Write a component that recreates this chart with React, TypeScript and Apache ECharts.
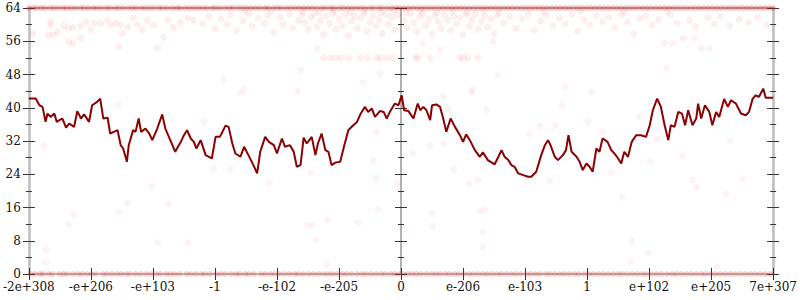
import React, { useEffect, useRef } from "react";
import * as echarts from "echarts";

const xTickLabels = ["-2e+308", "-e+206", "-e+103", "-1", "-e-102", "-e-205", "0", "e-206", "e-103", "1", "e+102", "e+205", "7e+307"];

const lineX = [
  -6.0, -5.89, -5.83, -5.78, -5.73, -5.7, -5.65, -5.59, -5.55, -5.51, -5.46, -5.4, -5.35, -5.27, -5.22, -5.16, -5.11, -5.03, -4.98, -4.9,
  -4.85, -4.8, -4.73, -4.69, -4.63, -4.57, -4.52, -4.48, -4.42, -4.39, -4.32, -4.28, -4.23, -4.19, -4.12, -4.06, -4.01, -3.93, -3.85, -3.8,
  -3.72, -3.64, -3.55, -3.5, -3.45, -3.39, -3.34, -3.3, -3.23, -3.15, -3.05, -2.99, -2.92, -2.83, -2.78, -2.72, -2.67, -2.59, -2.53, -2.46,
  -2.38, -2.32, -2.27, -2.19, -2.13, -2.05, -2.0, -1.92, -1.87, -1.79, -1.73, -1.68, -1.62, -1.57, -1.52, -1.44, -1.38, -1.34, -1.28, -1.22,
  -1.17, -1.12, -1.06, -0.98, -0.92, -0.85, -0.77, -0.71, -0.65, -0.58, -0.53, -0.47, -0.42, -0.34, -0.28, -0.23, -0.18, -0.1, -0.04, 0.01,
  0.05, 0.12, 0.2, 0.27, 0.31, 0.36, 0.41, 0.47, 0.5, 0.57, 0.63, 0.68, 0.73, 0.8, 0.87, 0.95, 1.0, 1.05, 1.11, 1.19,
  1.27, 1.32, 1.4, 1.51, 1.57, 1.62, 1.67, 1.73, 1.78, 1.83, 1.89, 1.97, 2.05, 2.1, 2.18, 2.26, 2.32, 2.37, 2.41, 2.48,
  2.53, 2.61, 2.66, 2.7, 2.75, 2.83, 2.88, 2.93, 2.99, 3.04, 3.09, 3.15, 3.2, 3.25, 3.33, 3.39, 3.44, 3.5, 3.55, 3.6,
  3.66, 3.72, 3.79, 3.87, 3.95, 4.01, 4.06, 4.13, 4.19, 4.25, 4.31, 4.35, 4.41, 4.47, 4.53, 4.58, 4.63, 4.7, 4.76, 4.79,
  4.84, 4.9, 4.97, 5.02, 5.08, 5.13, 5.21, 5.27, 5.32, 5.4, 5.48, 5.56, 5.61, 5.67, 5.72, 5.77, 5.84, 5.88, 6.0
];
const lineY = [
  42.2, 42.2, 40.6, 40.2, 36.6, 38.6, 37.8, 38.6, 36.6, 37.0, 37.4, 35.2, 36.2, 35.4, 39.2, 37.4, 38.4, 36.6, 40.6, 41.4,
  42.2, 37.4, 37.6, 33.8, 34.2, 34.6, 31.0, 30.2, 27.0, 31.0, 34.6, 34.2, 37.4, 34.2, 35.0, 33.8, 32.2, 35.0, 38.4, 35.0,
  32.2, 29.4, 31.8, 33.4, 34.6, 32.6, 31.8, 30.2, 32.2, 28.6, 27.8, 33.0, 33.0, 35.7, 35.4, 31.4, 29.0, 28.2, 30.6, 28.6,
  26.2, 24.2, 29.4, 33.0, 31.8, 31.0, 29.0, 32.6, 30.6, 31.0, 29.4, 25.8, 26.2, 32.8, 31.4, 33.0, 28.6, 31.4, 33.8, 29.8,
  29.4, 26.2, 26.8, 27.0, 30.6, 34.6, 35.8, 36.6, 38.6, 40.2, 39.0, 39.8, 37.8, 39.2, 39.0, 37.4, 39.0, 41.0, 40.6, 43.0,
  39.4, 39.2, 37.4, 41.0, 39.4, 40.2, 39.4, 37.0, 40.6, 40.8, 40.2, 37.4, 34.2, 37.4, 35.4, 33.4, 31.8, 33.6, 32.2, 29.8,
  28.2, 29.3, 27.4, 26.4, 28.2, 29.8, 28.2, 27.4, 26.2, 25.8, 24.2, 23.8, 23.4, 23.4, 24.6, 28.6, 31.0, 32.2, 31.0, 28.2,
  27.4, 28.6, 29.8, 33.4, 29.4, 28.2, 27.0, 25.0, 26.6, 25.8, 24.6, 30.2, 29.4, 32.6, 31.8, 29.8, 29.0, 27.8, 26.6, 29.4,
  28.2, 31.8, 33.4, 33.4, 33.0, 35.8, 39.4, 42.2, 40.2, 35.8, 32.2, 35.8, 35.4, 39.0, 38.6, 35.8, 39.4, 35.8, 37.4, 41.0,
  37.4, 40.6, 39.0, 35.8, 39.0, 37.8, 42.1, 40.2, 41.8, 41.0, 38.6, 38.2, 39.0, 42.2, 43.0, 42.6, 44.6, 42.4, 42.4
];

const row64X = [
  -6.0, -5.93, -5.87, -5.8, -5.74, -5.66, -5.6, -5.53, -5.45, -5.39, -5.32, -5.25, -5.17, -5.11, -5.04, -4.96, -4.9, -4.83, -4.75, -4.69,
  -4.61, -4.55, -4.48, -4.4, -4.33, -4.27, -4.19, -4.12, -4.05, -3.98, -3.9, -3.84, -3.77, -3.69, -3.62, -3.56, -3.48, -3.41, -3.34, -3.27,
  -3.2, -3.13, -3.05, -2.99, -2.92, -2.84, -2.77, -2.71, -2.63, -2.56, -2.49, -2.42, -2.35, -2.28, -2.2, -2.14, -2.06, -1.99, -1.93, -1.85,
  -1.78, -1.71, -1.64, -1.57, -1.5, -1.43, -1.36, -1.28, -1.22, -1.14, -1.08, -1.0, -0.93, -0.86, -0.79, -0.72, -0.65, -0.58, -0.5, -0.44,
  -0.36, -0.3, -0.22, -0.15, -0.08, -0.02, 0.05, 0.12, 0.19, 0.26, 0.33, 0.4, 0.47, 0.54, 0.61, 0.68, 0.75, 0.82, 0.89, 0.96,
  1.03, 1.1, 1.17, 1.24, 1.31, 1.38, 1.45, 1.52, 1.59, 1.66, 1.73, 1.8, 1.87, 1.94, 2.01, 2.08, 2.15, 2.22, 2.29, 2.36,
  2.43, 2.5, 2.57, 2.64, 2.71, 2.78, 2.85, 2.92, 2.99, 3.06, 3.13, 3.2, 3.27, 3.34, 3.41, 3.48, 3.55, 3.62, 3.69, 3.76,
  3.83, 3.9, 3.97, 4.04, 4.11, 4.18, 4.25, 4.32, 4.39, 4.46, 4.53, 4.6, 4.67, 4.74, 4.81, 4.88, 4.95, 5.02, 5.09, 5.16,
  5.23, 5.3, 5.37, 5.44, 5.51, 5.58, 5.65, 5.72, 5.79, 5.86, 5.93, 6.0
];
const row0X = [
  -5.97, -5.9, -5.82, -5.77, -5.68, -5.62, -5.51, -5.44, -5.38, -5.29, -5.21, -5.14, -5.06, -4.99, -4.92, -4.81, -4.74, -4.66, -4.58, -4.51,
  -4.43, -4.37, -4.28, -4.2, -4.11, -4.03, -3.95, -3.88, -3.79, -3.72, -3.65, -3.57, -3.46, -3.39, -3.31, -3.22, -3.16, -3.08, -2.98, -2.91,
  -2.83, -2.74, -2.66, -2.6, -2.51, -2.45, -2.37, -2.26, -2.19, -2.11, -2.04, -1.96, -1.88, -1.8, -1.72, -1.66, -1.58, -1.49, -1.41, -1.33,
  -1.25, -1.18, -1.11, -1.03, -0.95, -0.88, -0.8, -0.71, -0.63, -0.56, -0.48, -0.4, -0.32, -0.25, -0.17, -0.1, -0.03, 0.04, 0.11, 0.18,
  0.25, 0.32, 0.41, 0.49, 0.56, 0.63, 0.71, 0.78, 0.86, 0.93, 1.01, 1.09, 1.16, 1.24, 1.32, 1.39, 1.47, 1.55, 1.62, 1.7,
  1.78, 1.85, 1.93, 2.02, 2.09, 2.17, 2.24, 2.33, 2.4, 2.48, 2.56, 2.63, 2.71, 2.79, 2.86, 2.95, 3.03, 3.1, 3.18, 3.26,
  3.34, 3.42, 3.5, 3.57, 3.65, 3.73, 3.81, 3.89, 3.96, 4.04, 4.12, 4.2, 4.29, 4.37, 4.44, 4.52, 4.6, 4.68, 4.76, 4.84,
  4.91, 4.99, 5.07, 5.15, 5.23, 5.31, 5.39, 5.47, 5.55, 5.63, 5.71, 5.79, 5.87, 5.95
];

const bandPoints: [number, number][] = [
  [-5.94, 57.9], [-5.68, 57.5], [-5.65, 60.7], [-5.65, 59.9], [-5.6, 57.5], [-5.54, 58.3], [-5.44, 59.7], [-5.36, 59.2], [-5.36, 55.8], [-5.29, 59.3],
  [-5.29, 55.5], [-5.16, 59.7], [-5.16, 56.7], [-5.08, 60.7], [-5.0, 58.7], [-4.95, 60.4], [-4.84, 60.4], [-4.73, 61.1], [-4.68, 59.9], [-4.6, 60.4],
  [-4.55, 54.7], [-4.52, 59.9], [-4.49, 57.9], [-4.41, 59.4], [-4.31, 61.6], [-4.25, 59.9], [-4.17, 58.7], [-4.09, 61.1], [-3.99, 59.9], [-3.92, 54.4],
  [-3.83, 57.0], [-3.76, 61.1], [-3.67, 59.4], [-3.55, 60.6], [-3.44, 61.6], [-3.35, 61.1], [-3.2, 60.2], [-3.1, 62.0], [-3.0, 59.0], [-2.9, 61.3],
  [-2.8, 60.0], [-2.75, 62.4], [-2.65, 58.5], [-2.55, 61.0], [-2.45, 62.6], [-2.4, 59.6], [-2.3, 61.5], [-2.2, 60.3], [-2.15, 62.2], [-2.05, 58.2],
  [-1.95, 61.8], [-1.9, 60.0], [-1.8, 62.5], [-1.75, 59.2], [-1.65, 61.0], [-1.6, 62.3], [-1.55, 60.5], [-1.5, 58.8], [-1.45, 61.7], [-1.4, 62.6],
  [-1.35, 59.5], [-1.3, 61.0], [-1.25, 57.6], [-1.2, 62.0], [-1.15, 60.3], [-1.1, 62.7], [-1.05, 58.9], [-1.0, 61.4], [-0.95, 59.8], [-0.9, 62.4],
  [-0.85, 57.4], [-0.8, 60.8], [-0.75, 62.1], [-0.7, 59.1], [-0.65, 61.6], [-0.6, 62.8], [-0.55, 58.4], [-0.5, 60.6], [-0.45, 62.2], [-0.4, 59.6],
  [-0.35, 61.2], [-0.3, 57.9], [-0.25, 62.5], [-0.2, 60.1], [-0.15, 61.8], [-0.1, 58.7], [-0.05, 62.4], [0.05, 61.0], [0.1, 59.3], [0.15, 62.6],
  [0.2, 60.4], [0.25, 58.2], [0.3, 61.9], [0.35, 62.7], [0.4, 59.8], [0.45, 61.3], [0.5, 57.8], [0.55, 62.2], [0.6, 60.7], [0.65, 59.0],
  [0.7, 62.5], [0.75, 61.1], [0.8, 58.6], [0.85, 62.0], [0.9, 60.2], [0.95, 61.7], [1.0, 57.5], [1.05, 62.4], [1.1, 59.7], [1.15, 61.2],
  [1.2, 62.7], [1.25, 58.9], [1.3, 60.8], [1.35, 62.1], [1.4, 59.4], [1.45, 61.5], [1.5, 57.9], [1.55, 62.3], [1.65, 60.4], [1.75, 62.0],
  [1.85, 59.1], [1.95, 61.4], [2.05, 62.6], [2.15, 58.6], [2.25, 60.9], [2.35, 62.3], [2.45, 59.8], [2.55, 61.6], [2.65, 60.2], [2.75, 62.5],
  [2.85, 58.4], [2.95, 61.1], [3.05, 59.9], [3.15, 62.2], [3.25, 60.6], [3.35, 61.8], [3.45, 59.3], [3.55, 62.4], [3.65, 60.7], [3.75, 57.7],
  [3.85, 61.5], [3.95, 62.1], [4.05, 59.9], [4.15, 61.2], [4.25, 55.5], [4.35, 62.3], [4.45, 60.4], [4.55, 56.7], [4.65, 61.0], [4.75, 59.6],
  [4.85, 54.3], [4.95, 61.7], [5.05, 60.2], [5.15, 62.0], [5.3, 59.7], [5.45, 61.3], [5.6, 60.5], [5.75, 61.8], [5.9, 59.9],
  [-1.58, 63.1], [-1.32, 62.9], [-1.08, 63.2], [-0.82, 63.0], [-0.58, 63.3], [-0.33, 62.9], [-0.12, 63.2], [0.08, 63.0], [0.32, 63.3], [0.58, 62.9],
  [0.83, 63.2], [1.07, 63.0], [1.33, 63.3], [1.58, 62.9], [-2.52, 63.1], [-2.1, 63.2], [2.3, 63.1], [2.9, 63.2], [3.6, 63.0], [4.3, 63.1]
];

const row52X = [-1.25, -1.14, -1.06, -0.97, -0.84, -0.66, -0.55, -0.39, -0.34, -0.23, -0.13, 0.23, 0.27, 0.47, 0.95, 1.0, 1.08, 1.24];

const sparsePoints: [number, number][] = [
  [-1.62, 49.1], [-1.35, 54.1], [-0.34, 48.1], [-0.61, 46.0], [1.16, 44.3], [1.56, 47.9], [0.34, 55.5], [0.63, 53.9], [1.48, 55.9], [4.38, 55.5],
  [4.97, 54.3], [4.28, 49.5], [4.73, 56.7], [-5.73, 5.8], [-5.73, 2.9], [-5.36, 12.0], [-5.28, 14.4], [-4.55, 14.9], [-4.41, 17.0], [-3.75, 16.8],
  [-3.92, 7.5], [-3.44, 7.5], [-1.51, 11.8], [-1.43, 11.8], [-1.37, 8.2], [-1.19, 13.0], [-0.69, 12.3], [-0.37, 15.6], [0.5, 14.7], [0.51, 11.5],
  [1.27, 15.2], [1.35, 15.6], [1.32, 10.1], [1.32, 6.5], [-1.19, 2.2], [0.05, 10.6], [3.72, 8.0], [3.99, 5.0], [3.7, 2.9], [5.1, 1.7],
  [-4.55, 40.7], [-5.76, 30.8], [-4.02, 21.2], [-2.86, 46.7], [-2.54, 44.5], [-2.59, 43.5], [-1.67, 44.0], [-3.18, 36.6], [-3.02, 25.3], [-2.75, 25.3],
  [-2.12, 21.9], [-1.45, 24.3], [-0.39, 34.2], [-0.45, 27.2], [-0.4, 23.1], [-0.05, 21.9], [0.68, 42.8], [1.13, 43.8], [1.38, 39.5], [2.65, 45.0],
  [3.07, 43.8], [2.59, 40.4], [0.77, 39.7], [2.24, 35.6], [2.49, 35.8], [3.02, 36.6], [2.07, 33.7], [0.19, 29.1], [0.47, 30.8], [0.68, 31.5],
  [0.85, 25.0], [1.09, 21.7], [1.24, 22.6], [2.4, 22.4], [3.84, 37.8], [3.25, 34.2], [4.12, 32.5], [5.31, 32.0], [4.01, 27.2], [4.54, 28.4],
  [3.39, 24.5], [4.7, 22.6], [4.76, 20.9], [5.5, 22.9], [3.57, 18.5], [5.24, 19.2]
];

const FONT = "DejaVu Serif";
const TICK = "#333";
const AXIS = "#bdbdbd";

function yAx(position: string, onZero: boolean, opts: any) {
  return {
    type: "value",
    min: 0,
    max: 64,
    interval: 8,
    position,
    splitLine: { show: false },
    axisLine: { show: opts.line !== false, onZero, lineStyle: { color: opts.color || AXIS, width: opts.width || 2.5 } },
    axisTick: { show: true, inside: !!opts.inside, length: 6, lineStyle: { color: TICK, width: 1 } },
    minorTick: { show: true, splitNumber: 2, length: 3, lineStyle: { color: TICK, width: 1 } },
    axisLabel: opts.labels
      ? { show: true, fontFamily: FONT, fontSize: 12, color: "#111", margin: 8 }
      : { show: false },
  };
}

export default function App() {
  const ref = useRef<HTMLDivElement>(null);
  useEffect(() => {
    if (!ref.current) return;
    const chart = echarts.init(ref.current, null, { renderer: "svg" });
    const pointStyle = { color: "rgba(245,30,30,0.09)" };
    const topRowStyle = { color: "rgba(228,30,30,0.32)" };
    const bottomRowStyle = { color: "rgba(228,30,30,0.26)" };
    chart.setOption({
      animation: false,
      grid: { left: 28, right: 26, top: 8, bottom: 26, containLabel: false },
      xAxis: [
        {
          type: "value", min: -6, max: 6, interval: 1, position: "bottom",
          splitLine: { show: false },
          axisLine: { show: true, onZero: false, lineStyle: { color: AXIS, width: 2 } },
          axisTick: { show: true, length: 6, lineStyle: { color: TICK, width: 1 } },
          axisLabel: {
            show: true, fontFamily: FONT, fontSize: 12, color: "#111", margin: 7,
            showMinLabel: true, showMaxLabel: true, hideOverlap: false,
            formatter: (v: number) => xTickLabels[Math.round(v) + 6],
          },
        },
        {
          type: "value", min: -6, max: 6, interval: 1, position: "bottom",
          splitLine: { show: false },
          axisLine: { show: false, onZero: false },
          axisTick: { show: true, inside: true, length: 6, lineStyle: { color: TICK, width: 1 } },
          axisLabel: { show: false },
        },
        {
          type: "value", min: -6, max: 6, interval: 1, position: "top",
          splitLine: { show: false },
          axisLine: { show: true, onZero: false, lineStyle: { color: "#aaa", width: 2 } },
          axisTick: { show: false },
          axisLabel: { show: false },
        },
      ],
      yAxis: [
        yAx("left", false, { labels: true }),
        yAx("left", false, { inside: true, line: false }),
        yAx("right", false, {}),
        yAx("right", false, { inside: true, line: false }),
        yAx("left", true, { color: "#999", width: 1.5 }),
        yAx("left", true, { inside: true, line: false }),
      ],
      series: [
        {
          type: "scatter", symbol: "circle", symbolSize: 6, xAxisIndex: 0, yAxisIndex: 0,
          itemStyle: topRowStyle, data: row64X.map((x) => [x, 64]), z: 3,
        },
        {
          type: "scatter", symbol: "circle", symbolSize: 6, xAxisIndex: 0, yAxisIndex: 0,
          itemStyle: bottomRowStyle, data: row0X.map((x) => [x, 0]), z: 3,
        },
        {
          type: "scatter", symbol: "circle", symbolSize: 7, xAxisIndex: 0, yAxisIndex: 0,
          itemStyle: pointStyle, data: bandPoints, z: 3,
        },
        {
          type: "scatter", symbol: "circle", symbolSize: 7, xAxisIndex: 0, yAxisIndex: 0,
          itemStyle: pointStyle, data: row52X.map((x) => [x, 52]), z: 3,
        },
        {
          type: "scatter", symbol: "circle", symbolSize: 7, xAxisIndex: 0, yAxisIndex: 0,
          itemStyle: { color: "rgba(245,30,30,0.07)" }, data: sparsePoints, z: 3,
        },
        {
          type: "line", xAxisIndex: 0, yAxisIndex: 0, showSymbol: false, symbol: "none",
          lineStyle: { color: "#8b0000", width: 2 },
          data: lineX.map((x, i) => [x, lineY[i]]), z: 5,
        },
      ],
    });
    return () => chart.dispose();
  }, []);
  return (
    <div
      ref={ref}
      style={{ position: "fixed", left: 0, top: 0, width: 800, height: 300, background: "#fff" }}
    />
  );
}
